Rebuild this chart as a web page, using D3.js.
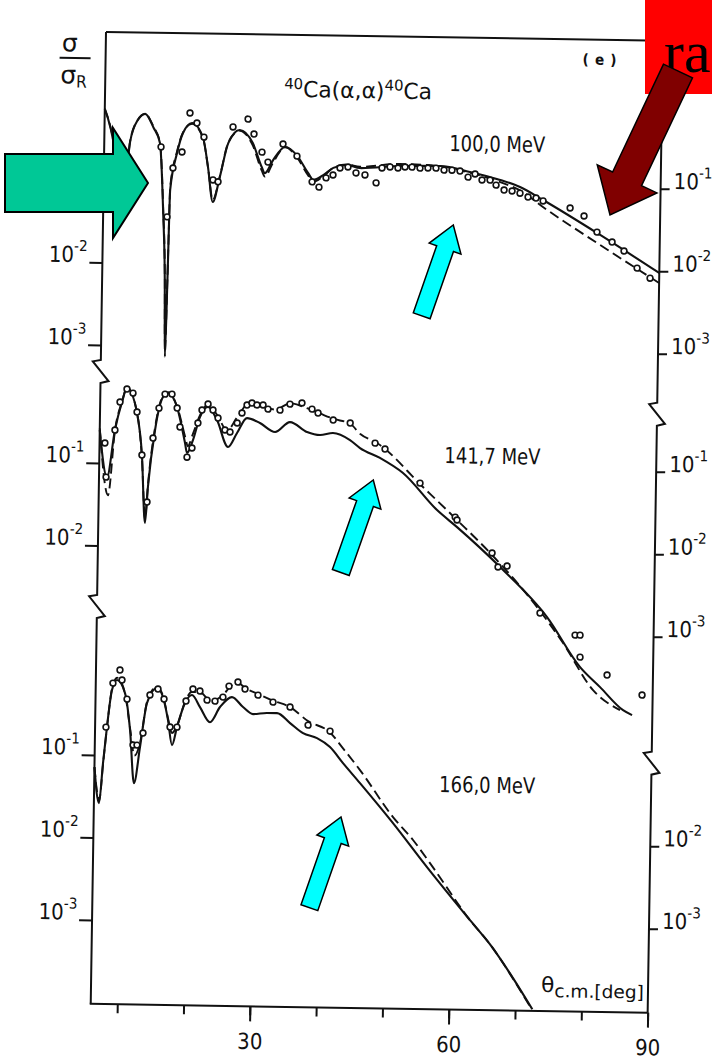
<!DOCTYPE html>
<html>
<head>
<meta charset="utf-8">
<script src="https://cdn.jsdelivr.net/npm/d3@7"></script>
<style>
  html, body { margin: 0; padding: 0; background: #fff; }
  svg { display: block; }
</style>
</head>
<body>
<svg id="chart" width="712" height="1062"></svg>
<script>
// ---- axis ticks and labels ----
const angleTicks = [10, 20, 30, 40, 50, 60, 70, 80, 90];
const angleLabels = [30, 60, 90];
const energyLabels = ["100,0 MeV", "141,7 MeV", "166,0 MeV"];
const leftTicks = [[1e-1, 1e-2, 1e-3], [1e-1, 1e-2], [1e-1, 1e-2, 1e-3]];
const rightTicks = [[1e-1, 1e-2, 1e-3], [1e-1, 1e-2, 1e-3], [1e-2, 1e-3]];

// ---- 100.0 MeV ----
const fitThetaA = [6.0,7.6,8.8,9.9,11.0,12.1,13.4,14.4,15.05,15.45,15.65,15.85,16.05,17.0,17.85,19.2,20.9,21.7,22.5,23.5,24.7,26.4,28.4,29.8,30.3,31.5,33.3,35.1,36.8,37.6,39.1,40.6,42.7,44.6,50.7,56.7,61.2,65.8,68.8,72.3,81.0,90.0];
const solidA = [0.73,0.23,0.035,0.295,0.54,0.645,0.44,0.288,0.041,0.0063,0.00074,0.0063,0.078,0.219,0.384,0.51,0.337,0.150,0.0568,0.114,0.296,0.429,0.299,0.154,0.130,0.188,0.272,0.215,0.133,0.110,0.126,0.155,0.169,0.156,0.168,0.171,0.147,0.119,0.0986,0.0693,0.0268,0.0095];
const dashedA = [0.73,0.23,0.035,0.30,0.54,0.64,0.45,0.29,0.045,0.007,0.00085,0.007,0.085,0.23,0.39,0.50,0.33,0.15,0.060,0.115,0.30,0.42,0.28,0.14,0.118,0.175,0.27,0.205,0.125,0.104,0.122,0.155,0.172,0.162,0.178,0.170,0.144,0.112,0.090,0.0571,0.0203,0.0072];
const dataThetaA = [14.57,15.64,16.42,17.75,18.86,19.93,21.02,22.48,23.25,25.38,27.63,28.56,29.81,30.73,32.96,35.09,37.43,38.48,39.52,40.57,41.61,42.81,44.03,45.39,47.08,47.94,49.15,50.35,51.41,52.46,53.67,54.87,56.08,57.30,58.50,59.71,60.94,61.99,63.05,64.26,65.18,66.40,67.61,68.81,70.03,71.24,72.31,76.40,78.52,80.51,82.81,84.63,86.64,88.62];
const dataA = [0.258,0.0367,0.144,0.226,0.673,0.51,0.346,0.105,0.100,0.465,0.583,0.385,0.233,0.177,0.295,0.212,0.104,0.090,0.117,0.127,0.155,0.160,0.136,0.129,0.104,0.158,0.163,0.159,0.164,0.164,0.160,0.161,0.161,0.153,0.153,0.150,0.127,0.139,0.118,0.118,0.103,0.090,0.088,0.083,0.0748,0.073,0.0675,0.0561,0.0452,0.029,0.0221,0.0173,0.0108,0.0082];

// ---- 141.7 MeV ----
const solidThetaB = [6.0,7.21,8.29,9.29,10.01,11.58,12.42,13.04,13.40,14.34,15.46,16.21,17.60,18.89,19.21,20.09,21.08,22.27,23.66,25.38,26.71,28.18,30.14,32.44,34.67,37.26,39.22,41.18,43.76,45.29,48.33,51.83,57.05,60.11,66.69,73.89,78.99,82.05,85.57,86.94];
const solidB = [0.251,0.0676,0.252,0.553,0.818,0.409,0.127,0.0191,0.0522,0.257,0.647,0.726,0.492,0.181,0.137,0.198,0.377,0.499,0.348,0.165,0.245,0.373,0.327,0.256,0.340,0.260,0.240,0.255,0.211,0.170,0.130,0.0863,0.0311,0.0195,0.00653,0.00165,0.000414,0.000239,0.000127,0.000111];
const dashedThetaB = [6.0,7.4,8.3,9.3,10.0,11.6,12.4,13.05,13.4,14.3,15.5,16.3,17.6,19.0,19.3,20.1,21.1,22.3,23.7,25.2,26.7,28.3,30.2,32.4,34.7,37.3,39.2,41.2,43.8,45.3,47.85,54.87,60.09,65.45,72.36,76.37,81.0,85.11];
const dashedB = [0.263,0.0407,0.251,0.562,0.832,0.407,0.126,0.0224,0.0562,0.263,0.676,0.741,0.501,0.200,0.166,0.240,0.398,0.537,0.398,0.263,0.380,0.550,0.537,0.479,0.575,0.501,0.437,0.380,0.331,0.251,0.197,0.0589,0.0238,0.0091,0.00217,0.000804,0.000219,0.000127];
const dataThetaB = [6.81,7.06,8.29,8.99,10.01,10.93,11.58,12.42,13.30,14.05,14.88,15.76,16.81,17.62,18.09,19.22,19.95,20.79,21.37,22.27,23.03,23.81,24.88,25.65,26.71,27.41,28.15,28.89,29.65,30.57,31.32,33.13,34.62,36.43,37.96,38.88,41.18,43.75,47.55,49.06,54.42,59.80,60.09,65.45,66.38,67.74,72.82,78.16,78.91,78.96,83.08,88.40];
const dataB = [0.175,0.0676,0.252,0.552,0.796,0.713,0.421,0.127,0.0343,0.205,0.474,0.703,0.705,0.479,0.282,0.122,0.158,0.318,0.458,0.543,0.460,0.369,0.265,0.251,0.324,0.429,0.537,0.569,0.540,0.541,0.484,0.473,0.562,0.582,0.493,0.443,0.367,0.340,0.196,0.167,0.0656,0.0258,0.0238,0.00962,0.00653,0.00673,0.00184,0.00101,0.00101,0.000547,0.000336,0.000195];

// ---- 166.0 MeV ----
const solidThetaC = [6.0,6.77,7.28,7.79,8.46,9.20,10.43,11.28,12.0,12.82,13.77,15.24,16.16,16.98,17.64,18.35,19.50,20.54,21.77,23.31,24.79,26.57,28.26,29.78,31.89,33.40,35.39,37.37,39.49,41.47,43.47,46.08,51.15,56.38,62.99,66.07,69.14,72.6];
const solidC = [0.0711,0.0261,0.080,0.218,0.615,0.817,0.569,0.203,0.0462,0.127,0.435,0.664,0.518,0.273,0.136,0.225,0.442,0.555,0.398,0.262,0.402,0.533,0.406,0.335,0.348,0.348,0.265,0.201,0.176,0.138,0.0887,0.0512,0.0170,0.00505,0.00117,0.0006,0.00027,0.0001];
const dashedThetaC = [6.0,6.8,7.3,7.8,8.5,9.2,10.4,11.3,12.0,12.8,13.8,15.2,16.2,17.0,17.6,18.4,19.5,20.5,21.8,22.8,24.0,25.2,26.5,27.5,28.5,30.5,32.8,35.3,38.1,41.4,43.5,46.05,51.14,54.21,56.82,63.0,66.1,69.1,72.5];
const dashedC = [0.0711,0.0282,0.0794,0.219,0.661,0.871,0.575,0.209,0.10,0.141,0.457,0.692,0.525,0.282,0.191,0.240,0.457,0.603,0.603,0.513,0.490,0.562,0.741,0.794,0.692,0.589,0.490,0.417,0.282,0.209,0.132,0.0736,0.0201,0.0107,0.00566,0.00117,0.0006,0.00027,0.0001];
const dataThetaC = [7.64,8.59,9.62,9.95,10.75,11.76,12.36,13.24,14.20,15.40,16.33,17.30,18.35,19.65,20.67,21.73,22.82,24.02,25.21,26.10,27.44,28.52,30.49,32.77,35.35,38.11,41.44];
const dataC = [0.218,0.748,1.08,0.818,0.481,0.134,0.134,0.188,0.545,0.646,0.490,0.225,0.225,0.468,0.656,0.622,0.485,0.473,0.531,0.723,0.813,0.671,0.570,0.472,0.414,0.252,0.215];

const zip = (a, b) => a.map((v, i) => [v, b[i]]);
const panels = [
  { label: energyLabels[0], solid: zip(fitThetaA, solidA), dashed: zip(fitThetaA, dashedA), data: zip(dataThetaA, dataA) },
  { label: energyLabels[1], solid: zip(solidThetaB, solidB), dashed: zip(dashedThetaB, dashedB), data: zip(dataThetaB, dataB) },
  { label: energyLabels[2], solid: zip(solidThetaC, solidC), dashed: zip(dashedThetaC, dashedC), data: zip(dataThetaC, dataC) }
];

// ---- layout ----
const FONT = '"Liberation Sans Narrow","DejaVu Sans Condensed","Liberation Sans",sans-serif';
const frame = { left: 106, right: 663, top: 32, bottom: 1004 };
const decade = 82.5;
const tenthY = [180, 463, 755];          // vertical position of 10^-1 in each panel
const labelBaseY = [145.6, 457.7, 786.7];
const leftBreaks = [360, 595];
const rightBreaks = [394, 743];

const x = d3.scaleLinear().domain([6, 90]).range([frame.left, frame.right]);
const yScales = tenthY.map(p => d3.scaleLog().domain([1e-1, 1e-4]).range([p, p + 3 * decade]));

const svg = d3.select("#chart");
const g = svg.append("g").attr("transform", `rotate(0.9,${frame.left},${frame.top})`);

// frame with broken vertical axes
function brokenAxis(X, breaks) {
  let d = `M${X},${frame.top}`;
  breaks.forEach(b => {
    d += `L${X},${b}L${X - 8},${b + 1.5}L${X + 8},${b + 21}L${X},${b + 23}`;
  });
  d += `L${X},${frame.bottom}`;
  return d;
}
const frameG = g.append("g");
[brokenAxis(frame.left, leftBreaks), brokenAxis(frame.right, rightBreaks),
 `M${frame.left},${frame.top}H${frame.right}`, `M${frame.left - 1},${frame.bottom}H${frame.right}`]
  .forEach(d => {
    frameG.append("path").attr("d", d)
      .attr("stroke", "#111").attr("stroke-width", 2).attr("fill", "none");
  });

// bottom axis
const minorAxis = g.append("g").attr("transform", `translate(0,${frame.bottom})`)
  .call(d3.axisBottom(x).tickValues(angleTicks).tickSize(9).tickFormat(""));
const majorAxis = g.append("g").attr("transform", `translate(0,${frame.bottom})`)
  .call(d3.axisBottom(x).tickValues(angleLabels).tickSize(15).tickPadding(12).tickFormat(d3.format("d")));
[minorAxis, majorAxis].forEach(a => {
  a.select(".domain").remove();
  a.selectAll(".tick line").attr("stroke", "#111").attr("stroke-width", 2);
  a.selectAll("text").attr("font-family", FONT).attr("font-size", 22).attr("fill", "#111");
});

function powerLabel(sel, v) {
  const e = Math.round(Math.log10(v));
  sel.text("10").append("tspan").attr("dy", -11).attr("font-size", 15).text(String(e));
}

panels.forEach((p, i) => {
  const y = yScales[i];
  // left ticks
  const la = g.append("g").attr("transform", `translate(${frame.left},0)`)
    .call(d3.axisLeft(y).tickValues(leftTicks[i]).tickSize(13).tickFormat(""));
  la.select(".domain").remove();
  la.selectAll(".tick line").attr("stroke", "#111").attr("stroke-width", 2);
  g.append("g").selectAll("text").data(leftTicks[i]).join("text")
    .attr("x", frame.left - 15).attr("y", d => y(d))
    .attr("text-anchor", "end").attr("font-family", FONT).attr("font-size", 22).attr("fill", "#111")
    .each(function (d) { powerLabel(d3.select(this), d); });

  // right ticks
  const ra = g.append("g").attr("transform", `translate(${frame.right},0)`)
    .call(d3.axisRight(y).tickValues(rightTicks[i]).tickSize(9).tickFormat(""));
  ra.select(".domain").remove();
  ra.selectAll(".tick line").attr("stroke", "#111").attr("stroke-width", 2);
  g.append("g").selectAll("text").data(rightTicks[i]).join("text")
    .attr("x", frame.right + 13).attr("y", d => y(d))
    .attr("text-anchor", "start").attr("font-family", FONT).attr("font-size", 22).attr("fill", "#111")
    .each(function (d) { powerLabel(d3.select(this), d); });

  const line = d3.line().x(d => x(d[0])).y(d => y(d[1])).curve(d3.curveMonotoneX);
  g.append("path").datum(p.dashed).attr("d", line)
    .attr("fill", "none").attr("stroke", "#111").attr("stroke-width", 1.9).attr("stroke-dasharray", "10,5");
  g.append("path").datum(p.solid).attr("d", line)
    .attr("fill", "none").attr("stroke", "#111").attr("stroke-width", 2.1);
  g.append("g").selectAll("circle").data(p.data).join("circle")
    .attr("cx", d => x(d[0])).attr("cy", d => y(d[1])).attr("r", 2.9)
    .attr("fill", "#fff").attr("stroke", "#111").attr("stroke-width", 1.6);

  g.append("text").attr("x", 451).attr("y", labelBaseY[i])
    .attr("font-family", FONT).attr("font-size", 22).attr("fill", "#111")
    .attr("textLength", 96).attr("lengthAdjust", "spacingAndGlyphs").text(p.label);
});

// axis title: sigma over sigma_R
const t1 = g.append("g").attr("font-family", '"DejaVu Sans",sans-serif').attr("fill", "#111");
t1.append("text").attr("x", 62).attr("y", 52).attr("font-size", 25).text("σ");
t1.append("line").attr("x1", 60).attr("x2", 91).attr("y1", 58.5).attr("y2", 58.5).attr("stroke", "#111").attr("stroke-width", 2);
const den = t1.append("text").attr("x", 61).attr("y", 84).attr("font-size", 25).text("σ");
den.append("tspan").attr("font-size", 17).attr("dy", 4).attr("font-family", FONT).text("R");

const reaction = g.append("text").attr("x", 285).attr("y", 94)
  .attr("font-family", FONT).attr("font-size", 22).attr("fill", "#111")
  .attr("textLength", 148).attr("lengthAdjust", "spacingAndGlyphs");
reaction.append("tspan").attr("font-size", 15).attr("dy", -8).text("40");
reaction.append("tspan").attr("dy", 8).text("Ca(α,α)");
reaction.append("tspan").attr("font-size", 15).attr("dy", -8).text("40");
reaction.append("tspan").attr("dy", 8).text("Ca");

g.append("text").attr("x", 583).attr("y", 57).attr("font-family", FONT).attr("font-size", 15)
  .attr("font-weight", "bold").attr("fill", "#111").attr("textLength", 34).attr("lengthAdjust", "spacing").text("( e )");

const xt = g.append("text").attr("x", 556).attr("y", 985)
  .attr("font-family", FONT).attr("font-size", 21).attr("fill", "#111")
  .attr("textLength", 103).attr("lengthAdjust", "spacingAndGlyphs");
xt.append("tspan").text("θ");
xt.append("tspan").attr("dy", 5).attr("font-size", 18).text("c.m.[deg]");

// ---- overlay arrows and box ----
function arrowPoints(tail, tip, shaftHalf, headHalf, headLen) {
  const dx = tip[0] - tail[0], dy = tip[1] - tail[1];
  const L = Math.hypot(dx, dy), ux = dx / L, uy = dy / L, nx = -uy, ny = ux;
  const bx = tip[0] - ux * headLen, by = tip[1] - uy * headLen;
  return [
    [tail[0] + nx * shaftHalf, tail[1] + ny * shaftHalf],
    [bx + nx * shaftHalf, by + ny * shaftHalf],
    [bx + nx * headHalf, by + ny * headHalf],
    tip,
    [bx - nx * headHalf, by - ny * headHalf],
    [bx - nx * shaftHalf, by - ny * shaftHalf],
    [tail[0] - nx * shaftHalf, tail[1] - ny * shaftHalf]
  ];
}
const over = svg.append("g");
over.append("polygon")
  .attr("points", [[5, 154], [113, 154], [113, 128], [148, 183], [113, 238], [113, 212], [5, 212]].join(" "))
  .attr("fill", "#00c896").attr("stroke", "#000").attr("stroke-width", 2);

over.append("rect").attr("x", 645).attr("y", 0).attr("width", 67).attr("height", 94).attr("fill", "#ff0000");
over.append("text").attr("x", 664).attr("y", 72).attr("font-family", '"Liberation Serif",serif')
  .attr("font-size", 60).attr("fill", "#000").text("ra");

over.append("polygon").attr("points", arrowPoints([678, 71], [610, 215], 16, 33, 40).join(" "))
  .attr("fill", "#800000").attr("stroke", "#000").attr("stroke-width", 1.5);

[[[421.7, 315.8], [453.3, 225]], [[340.8, 572.5], [373.3, 480]], [[309.4, 907.7], [341, 817]]]
  .forEach(([tail, tip]) => {
    over.append("polygon").attr("points", arrowPoints(tail, tip, 8.9, 16.8, 25).join(" "))
      .attr("fill", "#00ffff").attr("stroke", "#000").attr("stroke-width", 1.5);
  });
</script>
</body>
</html>
